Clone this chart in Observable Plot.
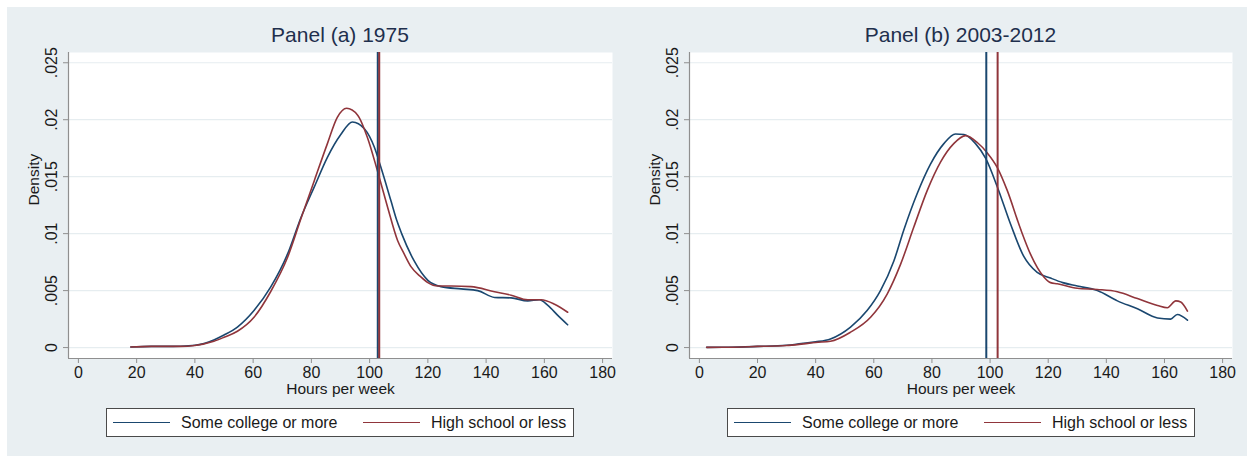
<!DOCTYPE html>
<html>
<head>
<meta charset="utf-8">
<script src="https://cdn.jsdelivr.net/npm/d3@7"></script>
<script src="https://cdn.jsdelivr.net/npm/@observablehq/plot@0.6"></script>
<style>
  html, body { margin: 0; padding: 0; background: #ffffff; }
  body { width: 1247px; height: 456px; position: relative; overflow: hidden;
         font-family: "Liberation Sans", Arial, sans-serif; }
  #bg { position: absolute; left: 7px; top: 7px; width: 1240px; height: 449px; background: #e9eff2; }
  .panel { position: absolute; top: 0; width: 620px; height: 456px; }
  .title { position: absolute; top: 22px; height: 26px; line-height: 26px; text-align: center;
           font-size: 21px; color: #1f2f4d; white-space: nowrap; }
  .chart { position: absolute; top: 45px; left: 0; }
  .legend { position: absolute; top: 408px; height: 29px; width: 468px; background: #ffffff;
            border: 1px solid #4a4a4a; box-sizing: border-box; }
  .legend .sw { position: absolute; top: 13px; width: 57px; height: 0; border-top: 1.5px solid; }
  .legend .lb { position: absolute; top: 0; height: 27px; line-height: 27px; font-size: 16px; color: #1a1a1a; white-space: nowrap; }
</style>
</head>
<body>
<div id="bg"></div>
<div id="root"></div>
<script>
// ---- Data ----
const panelTitles = ["Panel (a) 1975", "Panel (b) 2003-2012"];
const seriesNames = ["Some college or more", "High school or less"];
const seriesColors = ["#1a476f", "#90353b"];

const xTicks = [0, 20, 40, 60, 80, 100, 120, 140, 160, 180];
const yTicks = [0, 0.005, 0.01, 0.015, 0.02, 0.025];
const yTickLabels = ["0", ".005", ".01", ".015", ".02", ".025"];

// Panel (a) 1975 — Some college or more
const aCollegeX = [18, 25, 30, 35, 40, 46.5, 50, 54.6, 60.3, 66, 71.8, 76.4, 81, 85.5, 90.1, 94.1, 98.2, 101.6, 103.9, 107.3, 109.4, 111, 115.3, 120, 124.5, 131.4, 137.1, 142.9, 148.6, 154.3, 158.3, 161.2, 164.7, 168];
const aCollegeY = [0.00005, 0.0001, 0.0001, 0.00012, 0.0002, 0.00067, 0.0011, 0.0018, 0.00325, 0.0053, 0.0082, 0.0114, 0.0141, 0.0167, 0.0187, 0.0198, 0.0192, 0.0176, 0.0158, 0.0129, 0.0111, 0.0100, 0.0076, 0.0059, 0.00535, 0.00515, 0.0050, 0.0044, 0.00436, 0.0041, 0.0042, 0.0037, 0.0028, 0.0020];
// Panel (a) 1975 — High school or less
const aHighX = [18, 25, 30, 35, 40, 46.5, 50, 54.6, 60.3, 66, 71.8, 76.4, 81, 85.5, 88.9, 92.1, 95.9, 99.3, 102.7, 106.2, 109.6, 111.9, 114.2, 117.6, 120, 123.4, 128, 134.8, 142.9, 148.6, 154.3, 158.9, 163.5, 168];
const aHighY = [0.00005, 0.0001, 0.0001, 0.0001, 0.00018, 0.00055, 0.0009, 0.00143, 0.00266, 0.0049, 0.0079, 0.0113, 0.01465, 0.0179, 0.0202, 0.0210, 0.0204, 0.0184, 0.0155, 0.0123, 0.0094, 0.0082, 0.0071, 0.0062, 0.0057, 0.0054, 0.0054, 0.00535, 0.0049, 0.0046, 0.0042, 0.0042, 0.0038, 0.0031];
// Panel (b) 2003-2012 — Some college or more
const bCollegeX = [2.5, 10, 20, 30, 35, 40, 45.1, 52, 57.7, 62.3, 66.9, 70.3, 74.9, 79.5, 84.1, 88.1, 91, 95, 98.5, 102.5, 107.1, 111.6, 116.2, 120.8, 125, 130, 136.9, 143.8, 150.7, 157.6, 162.1, 164.4, 167.9];
const bCollegeY = [0.00002, 0.00003, 0.0001, 0.0002, 0.00035, 0.0005, 0.00076, 0.0018, 0.00325, 0.0050, 0.0076, 0.0103, 0.0135, 0.0161, 0.0179, 0.01875, 0.0187, 0.0179, 0.0166, 0.0141, 0.0108, 0.0080, 0.0066, 0.0061, 0.0057, 0.0054, 0.0050, 0.0041, 0.0034, 0.0026, 0.0025, 0.0029, 0.0024];
// Panel (b) 2003-2012 — High school or less
const bHighX = [2.5, 10, 20, 30, 35, 40, 45.1, 52, 58.9, 64.6, 69.2, 73.8, 78.4, 83, 87.5, 91.6, 95.6, 99, 102.5, 105.9, 110.5, 113.9, 118.5, 120.8, 123.1, 130, 136.9, 143.8, 150.7, 157.6, 161, 163.9, 165.6, 167.9];
const bHighY = [0.00002, 0.00003, 0.0001, 0.00018, 0.0003, 0.00045, 0.00055, 0.00135, 0.00266, 0.0047, 0.0073, 0.0106, 0.0138, 0.0163, 0.0179, 0.0186, 0.0180, 0.0171, 0.0158, 0.0138, 0.0104, 0.0082, 0.0062, 0.0057, 0.0056, 0.0052, 0.0051, 0.0049, 0.0043, 0.0037, 0.0035, 0.0041, 0.0040, 0.0032];

// Mean lines (vertical rules)
const aMeans = [102.8, 103.3];
const bMeans = [98.7, 102.6];

// ---- Build ----
const xDomain = [-3.4, 183.4];
const yDomain = [-0.00096, 0.0259];
const toRows = (xs, ys) => xs.map((x, i) => ({x, y: ys[i]}));

const panels = [
  {title: panelTitles[0], series: [toRows(aCollegeX, aCollegeY), toRows(aHighX, aHighY)], means: aMeans, left: 0, ml: 68, legendLeft: 106},
  {title: panelTitles[1], series: [toRows(bCollegeX, bCollegeY), toRows(bHighX, bHighY)], means: bMeans, left: 620, ml: 69, legendLeft: 107}
];

const root = document.getElementById("root");
const font = "'Liberation Sans', Arial, sans-serif";

panels.forEach(p => {
  const panel = document.createElement("div");
  panel.className = "panel";
  panel.style.left = p.left + "px";
  root.appendChild(panel);

  const width = 620, mr = 8;
  const t = document.createElement("div");
  t.className = "title";
  t.style.left = p.ml + "px";
  t.style.width = (width - p.ml - mr) + "px";
  t.textContent = p.title;
  panel.appendChild(t);

  const chart = Plot.plot({
    width, height: 355,
    marginLeft: p.ml, marginRight: mr, marginTop: 7, marginBottom: 42,
    style: {background: "transparent", fontFamily: font, overflow: "visible"},
    x: {domain: xDomain},
    y: {domain: yDomain},
    marks: [
      Plot.frame({fill: "#ffffff", stroke: "none"}),
      Plot.gridY(yTicks, {stroke: "#e6edf0", strokeOpacity: 1, strokeWidth: 1.2}),
      Plot.ruleX([xDomain[0]], {stroke: "#8f8f8f", strokeWidth: 1.2}),
      Plot.ruleY([yDomain[0]], {stroke: "#8f8f8f", strokeWidth: 1.2}),
      Plot.axisX(xTicks, {tickSize: 5, tickPadding: 3, fontSize: 16, label: null, stroke: "#8f8f8f", fill: "#1a1a1a"}),
      Plot.axisY(yTicks, {tickSize: 5, tickPadding: 7, tickRotate: -90, fontSize: 16, label: null, stroke: "#8f8f8f", fill: "#1a1a1a",
        tickFormat: d => yTickLabels[yTicks.findIndex(v => Math.abs(v - d) < 1e-9)]}),
      Plot.text(["Hours per week"], {frameAnchor: "bottom", dy: 35, fontSize: 15.5, fill: "#1a1a1a"}),
      Plot.text(["Density"], {frameAnchor: "left", dx: -34, rotate: -90, fontSize: 15.5, fill: "#1a1a1a"}),
      Plot.line(p.series[0], {x: "x", y: "y", stroke: seriesColors[0], strokeWidth: 1.6, curve: "monotone-x"}),
      Plot.line(p.series[1], {x: "x", y: "y", stroke: seriesColors[1], strokeWidth: 1.6, curve: "monotone-x"}),
      Plot.ruleX([p.means[0]], {stroke: seriesColors[0], strokeWidth: 2}),
      Plot.ruleX([p.means[1]], {stroke: seriesColors[1], strokeWidth: 2})
    ]
  });
  const wrap = document.createElement("div");
  wrap.className = "chart";
  wrap.appendChild(chart);
  panel.appendChild(wrap);

  const lg = document.createElement("div");
  lg.className = "legend";
  lg.style.left = p.legendLeft + "px";
  const offs = [{sw: 6, lb: 74}, {sw: 256, lb: 324}];
  seriesNames.forEach((name, i) => {
    const sw = document.createElement("div");
    sw.className = "sw";
    sw.style.left = offs[i].sw + "px";
    sw.style.borderTopColor = seriesColors[i];
    lg.appendChild(sw);
    const lb = document.createElement("div");
    lb.className = "lb";
    lb.style.left = offs[i].lb + "px";
    lb.textContent = name;
    lg.appendChild(lb);
  });
  panel.appendChild(lg);
});
</script>
</body>
</html>
